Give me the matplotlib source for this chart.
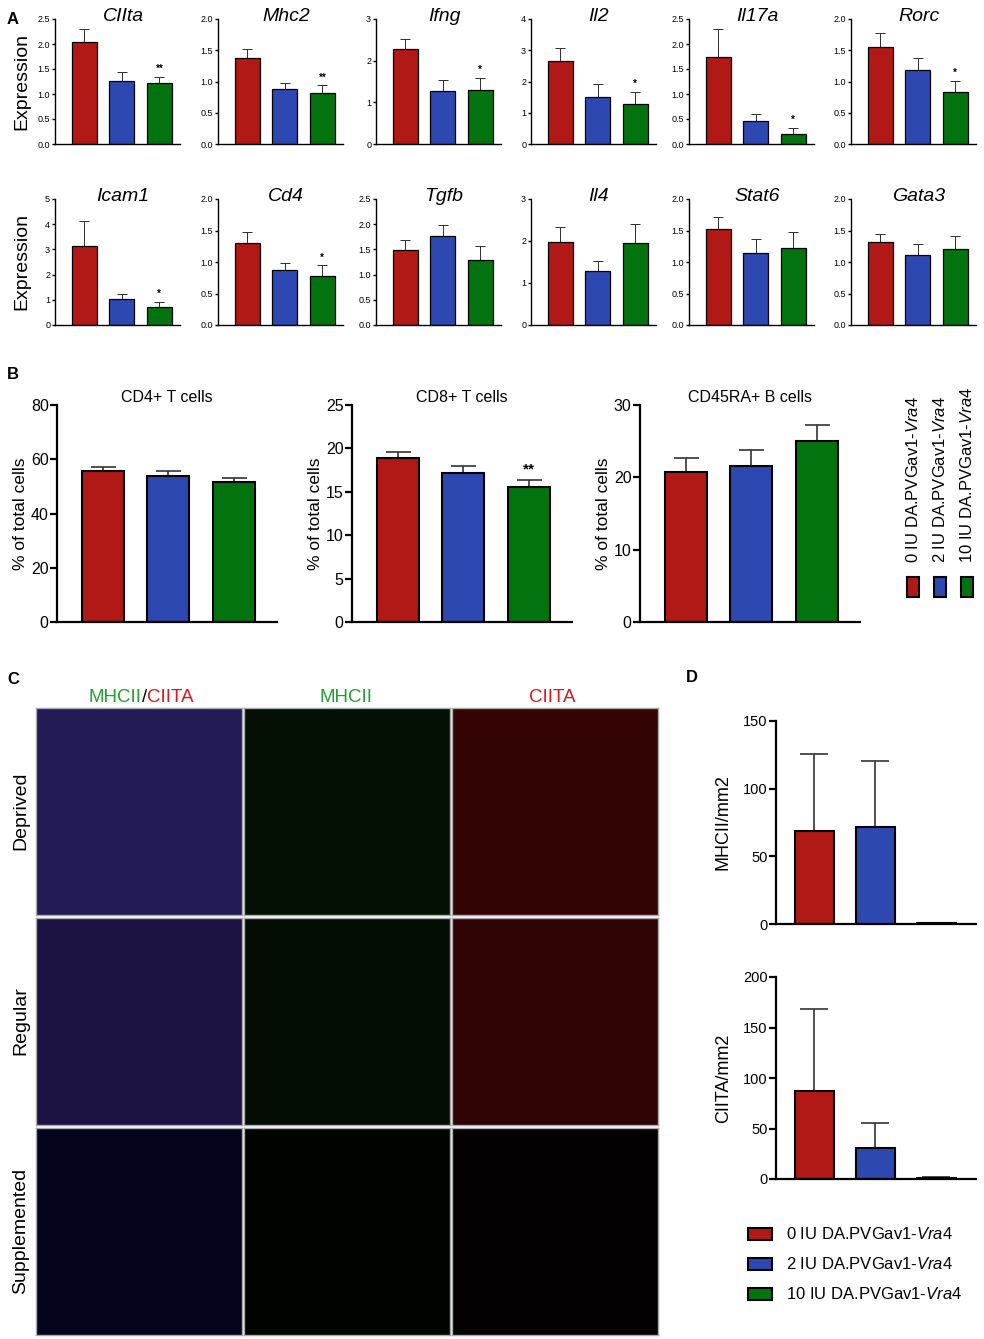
import matplotlib
matplotlib.use('Agg')
import matplotlib.pyplot as plt
from matplotlib.patches import Rectangle

plt.rcParams['font.family'] = ['Liberation Sans', 'DejaVu Sans']
plt.rcParams['mathtext.fontset'] = 'custom'
plt.rcParams['mathtext.rm'] = 'Liberation Sans'
plt.rcParams['mathtext.it'] = 'Liberation Sans:italic'

W, H = 984, 1339
colors = ['#B01916', '#2D48B0', '#02730F']
group_labels = [r'0 IU DA.PVGav1-$\mathit{Vra4}$',
                r'2 IU DA.PVGav1-$\mathit{Vra4}$',
                r'10 IU DA.PVGav1-$\mathit{Vra4}$']

# panel A - qPCR expression
genes_top = ['CIIta', 'Mhc2', 'Ifng', 'Il2', 'Il17a', 'Rorc']
mean_top = [[2.05, 1.27, 1.22], [1.37, 0.88, 0.81], [2.27, 1.28, 1.29],
            [2.67, 1.50, 1.29], [1.74, 0.46, 0.20], [1.56, 1.18, 0.84]]
err_top = [[0.26, 0.18, 0.13], [0.15, 0.09, 0.13], [0.26, 0.25, 0.30],
           [0.40, 0.43, 0.38], [0.56, 0.14, 0.13], [0.22, 0.20, 0.17]]
ymax_top = [2.5, 2.0, 3, 4, 2.5, 2.0]
step_top = [0.5, 0.5, 1, 1, 0.5, 0.5]
sig_top = ['**', '**', '*', '*', '*', '*']

genes_bot = ['Icam1', 'Cd4', 'Tgfb', 'Il4', 'Stat6', 'Gata3']
mean_bot = [[3.13, 1.02, 0.73], [1.30, 0.87, 0.78], [1.48, 1.77, 1.29],
            [1.97, 1.28, 1.95], [1.52, 1.15, 1.23], [1.32, 1.11, 1.21]]
err_bot = [[1.00, 0.20, 0.20], [0.18, 0.12, 0.17], [0.20, 0.22, 0.27],
           [0.37, 0.24, 0.46], [0.19, 0.22, 0.24], [0.12, 0.17, 0.21]]
ymax_bot = [5, 2.0, 2.5, 3, 2.0, 2.0]
step_bot = [1, 0.5, 0.5, 1, 0.5, 0.5]
sig_bot = ['*', '*', '', '', '', '']

# panel B - flow cytometry
cell_titles = ['CD4+ T cells', 'CD8+ T cells', 'CD45RA+ B cells']
mean_cells = [[55.7, 53.7, 51.5], [18.9, 17.2, 15.5], [20.8, 21.6, 25.0]]
err_cells = [[1.5, 2.1, 1.7], [0.7, 0.8, 0.9], [1.9, 2.2, 2.2]]
ymax_cells = [80, 25, 30]
step_cells = [20, 5, 10]
sig_cells = ['', '**', '']

# panel C - image grid (mean tint of each micrograph)
row_names = ['Deprived', 'Regular', 'Supplemented']
tints = [['#221A55', '#031003', '#340404'],
         ['#1C1343', '#030D03', '#300404'],
         ['#04041C', '#010301', '#030101']]

# panel D - counts per mm2
mhc_mean = [68.8, 71.6, 0.8]
mhc_err = [57.0, 49.0, 0.0]
ciita_mean = [87.6, 31.0, 1.0]
ciita_err = [80.5, 24.2, 0.7]

fig = plt.figure(figsize=(W / 100, H / 100), dpi=100)


def add_px(l, t, w, h):
    return fig.add_axes([l / W, 1 - (t + h) / H, w / W, h / H])


def bar_panel(ax, means, errs, ymax, step, xlim, bw, spine_lw, edge_lw,
              cap, tick_fs, ticklen, sig='', sig_fs=8, decimals=False):
    x = [0, 1, 2]
    ax.bar(x, means, width=bw, color=colors, edgecolor='black',
           linewidth=edge_lw, zorder=2)
    ax.errorbar(x, means, yerr=[[0, 0, 0], errs], fmt='none', ecolor='#333333',
                elinewidth=edge_lw * 0.8, capsize=cap, capthick=edge_lw * 0.8,
                zorder=1)
    ax.set_xlim(*xlim)
    ax.set_ylim(0, ymax)
    n = int(round(ymax / step))
    ticks = [i * step for i in range(n + 1)]
    ax.set_yticks(ticks)
    if decimals:
        ax.set_yticklabels(['%.1f' % t for t in ticks])
    else:
        ax.set_yticklabels(['%d' % t for t in ticks])
    ax.set_xticks([])
    for s in ['top', 'right']:
        ax.spines[s].set_visible(False)
    for s in ['left', 'bottom']:
        ax.spines[s].set_linewidth(spine_lw)
    ax.tick_params(axis='y', labelsize=tick_fs, length=ticklen,
                   width=spine_lw, pad=1)
    ax.patch.set_alpha(0)
    if sig:
        ax.annotate(sig, (2, means[2] + errs[2]), xytext=(0, 2),
                    textcoords='offset points', ha='center', va='bottom',
                    fontsize=sig_fs, fontweight='bold')


# ---- A
lefts_a = [55, 218, 376, 531, 689, 851]
for row, (genes, means, errs, ymaxs, steps, sigs, top, h) in enumerate([
        (genes_top, mean_top, err_top, ymax_top, step_top, sig_top, 19, 125),
        (genes_bot, mean_bot, err_bot, ymax_bot, step_bot, sig_bot, 199, 126)]):
    for i in range(6):
        ax = add_px(lefts_a[i], top, 125, h)
        bar_panel(ax, means[i], errs[i], ymaxs[i], steps[i], (-0.78, 2.55),
                  0.66, 1.0, 0.9, 3.5, 6.5, 2.5, sigs[i], 7,
                  decimals=(steps[i] < 1))
        fig.text((lefts_a[i] + 68) / W, 1 - (top + 2) / H, genes[i],
                 fontsize=14, fontstyle='italic', ha='center', va='baseline')
    fig.text(22 / W, 1 - (top + 63) / H, 'Expression', fontsize=14,
             rotation=90, ha='center', va='center')

# ---- B
lefts_b = [57, 352, 640]
for i in range(3):
    ax = add_px(lefts_b[i], 405, 220, 217)
    bar_panel(ax, mean_cells[i], err_cells[i], ymax_cells[i], step_cells[i],
              (-0.7, 2.66), 0.64, 1.6, 1.5, 9, 11.5, 5, sig_cells[i], 11)
    ax.set_title(cell_titles[i], fontsize=11.5, pad=-8)
    ax.set_ylabel('% of total cells', fontsize=12.5, labelpad=2)

for i in range(3):
    cx = [913, 940, 967][i]
    fig.text(cx / W, 1 - 563 / H, group_labels[i], fontsize=12, rotation=90,
             ha='center', va='bottom')
    fig.patches.append(Rectangle(((cx - 6) / W, 1 - 597 / H), 12 / W, 20 / H,
                                 transform=fig.transFigure, facecolor=colors[i],
                                 edgecolor='black', linewidth=1.5))

# ---- C
col_x = [36, 244, 452]
row_y = [708, 918, 1128]
for r in range(3):
    for c in range(3):
        ax = add_px(col_x[c], row_y[r], 206, 207)
        ax.set_facecolor(tints[r][c])
        ax.set_xticks([])
        ax.set_yticks([])
        for s in ax.spines.values():
            s.set_color('#a8a8a8')
            s.set_linewidth(1)
    fig.text(21 / W, 1 - (row_y[r] + 103) / H, row_names[r], fontsize=14,
             rotation=90, ha='center', va='center')

ty = 1 - 697 / H
fig.text(141.5 / W, ty, 'MHCII', color='#21A031', fontsize=13.5, ha='right', va='center')
fig.text(141.5 / W, ty, '/', color='black', fontsize=13.5, ha='left', va='center')
fig.text(146.5 / W, ty, 'CIITA', color='#E3141E', fontsize=13.5, ha='left', va='center')
fig.text(346 / W, ty, 'MHCII', color='#21A031', fontsize=13.5, ha='center', va='center')
fig.text(552 / W, ty, 'CIITA', color='#E3141E', fontsize=13.5, ha='center', va='center')

# ---- D
ax = add_px(776, 721, 200, 203)
bar_panel(ax, mhc_mean, mhc_err, 150, 50, (-0.63, 2.65), 0.64, 1.6, 1.5,
          10, 10.5, 5)
ax.set_ylabel('MHCII/mm2', fontsize=13, labelpad=8)
ax = add_px(776, 977, 200, 202)
bar_panel(ax, ciita_mean, ciita_err, 200, 50, (-0.63, 2.65), 0.64, 1.6, 1.5,
          10, 10.5, 5)
ax.set_ylabel('CIITA/mm2', fontsize=13, labelpad=8)

for i in range(3):
    cy = [1234, 1264, 1294][i]
    fig.patches.append(Rectangle((748 / W, 1 - (cy + 6) / H), 24 / W, 12 / H,
                                 transform=fig.transFigure, facecolor=colors[i],
                                 edgecolor='black', linewidth=1.5))
    fig.text(786 / W, 1 - cy / H, group_labels[i], fontsize=12, ha='left',
             va='center')

# panel letters
for letter, x, y in [('A', 13, 20), ('B', 13, 374), ('C', 13, 680), ('D', 692, 677)]:
    fig.text(x / W, 1 - y / H, letter, fontsize=12, fontweight='bold',
             ha='center', va='center')

fig.savefig('out.png', dpi=100)
